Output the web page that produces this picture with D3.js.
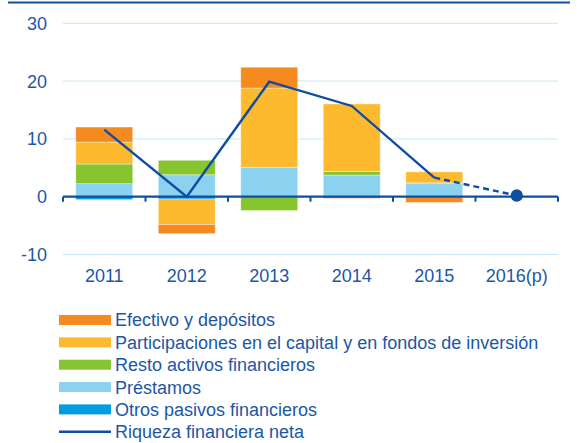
<!DOCTYPE html>
<html>
<head>
<meta charset="utf-8">
<script src="https://cdn.jsdelivr.net/npm/d3@7"></script>
<style>
  body { margin: 0; background: #fff; }
  svg { display: block; font-family: "Liberation Sans", Arial, sans-serif; }
</style>
</head>
<body>
<svg id="chart" width="577" height="443"></svg>
<script>
// Data
const years = ["2011", "2012", "2013", "2014", "2015", "2016(p)"];
const otrosPasivos = [-0.5, -0.4, 0, 0, 0, 0];
const prestamos = [2.25, 3.8, 5.1, 3.75, 2.25, 0];
const restoActivos = [3.4, 2.5, -2.4, 0.6, 0.15, 0];
const participaciones = [3.8, -4.4, 13.7, 11.7, 1.9, 0];
const efectivo = [2.6, -1.6, 3.6, -0.3, -1.0, 0];
const riqueza = [11.6, 0, 19.9, 15.7, 3.3, 0.2];
const yTicks = [-10, 0, 10, 20, 30];

const series = [
    { key: "efectivo", name: "Efectivo y depósitos", color: "#f58a1f", values: efectivo },
    { key: "participaciones", name: "Participaciones en el capital y en fondos de inversión", color: "#fdba2f", values: participaciones },
    { key: "resto", name: "Resto activos financieros", color: "#87c530", values: restoActivos },
    { key: "prestamos", name: "Préstamos", color: "#8bd2f1", values: prestamos },
    { key: "otros", name: "Otros pasivos financieros", color: "#009de0", values: otrosPasivos }
];

const textColor = "#1b57a7";
const lineColor = "#0d4ea2";

const svg = d3.select("#chart");
const plotLeft = 63, plotRight = 558, plotTop = 23.3, plotBottom = 254.5;

const x = d3.scaleBand().domain(years).range([plotLeft, plotRight]).paddingInner(0.31).paddingOuter(0.155);
const xc = d3.scaleBand().domain(years).range([plotLeft, plotRight]);
const y = d3.scaleLinear().domain([-10, 30]).range([plotBottom, plotTop]);

// top rule
svg.append("line")
    .attr("x1", 8).attr("x2", 570)
    .attr("y1", 2.5).attr("y2", 2.5)
    .attr("stroke", lineColor).attr("stroke-width", 2);

// gridlines
svg.selectAll(".grid")
    .data(yTicks.filter(d => d !== 0))
    .enter().append("line")
    .attr("x1", plotLeft).attr("x2", plotRight)
    .attr("y1", d => y(d)).attr("y2", d => y(d))
    .attr("stroke", "#c4e7f5").attr("stroke-width", 1);

// y labels
svg.selectAll(".ylab")
    .data(yTicks)
    .enter().append("text")
    .attr("x", 47)
    .attr("y", d => y(d))
    .attr("dy", "0.36em")
    .attr("text-anchor", "end")
    .attr("fill", textColor)
    .style("font-size", "18px")
    .text(d => d);

// stacked bars
const table = years.map((yr, i) => {
    const row = { year: yr };
    series.forEach(s => row[s.key] = s.values[i]);
    return row;
});
const stackOrder = ["otros", "prestamos", "resto", "participaciones", "efectivo"];
const stacked = d3.stack().keys(stackOrder).offset(d3.stackOffsetDiverging)(table);
const colorOf = Object.fromEntries(series.map(s => [s.key, s.color]));

stacked.forEach(layer => {
    svg.append("g")
        .selectAll("rect")
        .data(layer.filter(d => d[1] - d[0] !== 0))
        .enter().append("rect")
        .attr("x", d => x(d.data.year))
        .attr("width", x.bandwidth())
        .attr("y", d => y(Math.max(d[0], d[1])))
        .attr("height", d => Math.abs(y(d[0]) - y(d[1])))
        .attr("fill", colorOf[layer.key])
        .attr("stroke", "rgba(255,255,255,0.45)")
        .attr("stroke-width", 0.8);
});

// x axis line with ticks
const axisG = svg.append("g");
axisG.append("line")
    .attr("x1", plotLeft).attr("x2", plotRight)
    .attr("y1", y(0)).attr("y2", y(0))
    .attr("stroke", lineColor).attr("stroke-width", 2.2);
const boundaries = years.map(d => xc(d)).concat([plotRight]);
axisG.selectAll(".tick")
    .data(boundaries)
    .enter().append("line")
    .attr("x1", d => d).attr("x2", d => d)
    .attr("y1", y(0)).attr("y2", y(0) + 5)
    .attr("stroke", lineColor).attr("stroke-width", 2);

// x labels
svg.selectAll(".xlab")
    .data(years)
    .enter().append("text")
    .attr("x", d => xc(d) + xc.bandwidth() / 2)
    .attr("y", 276)
    .attr("dy", "0.36em")
    .attr("text-anchor", "middle")
    .attr("fill", textColor)
    .style("font-size", "18px")
    .text(d => d);

// net wealth line
const pts = years.map((yr, i) => ({ year: yr, value: riqueza[i] }));
const line = d3.line()
    .x(d => xc(d.year) + xc.bandwidth() / 2)
    .y(d => y(d.value));

svg.append("path")
    .datum(pts.slice(0, 5))
    .attr("d", line)
    .attr("fill", "none")
    .attr("stroke", lineColor)
    .attr("stroke-width", 2.4);

svg.append("path")
    .datum(pts.slice(4))
    .attr("d", line)
    .attr("fill", "none")
    .attr("stroke", lineColor)
    .attr("stroke-width", 2.4)
    .attr("stroke-dasharray", "6 4");

svg.append("circle")
    .attr("cx", xc(years[5]) + xc.bandwidth() / 2)
    .attr("cy", y(riqueza[5]))
    .attr("r", 6.2)
    .attr("fill", lineColor);

// legend
const legendItems = series.map(s => ({ name: s.name, color: s.color, type: "rect" }))
    .concat([{ name: "Riqueza financiera neta", color: lineColor, type: "line" }]);

const legend = svg.append("g")
    .selectAll("g")
    .data(legendItems)
    .enter().append("g")
    .attr("transform", (d, i) => `translate(59,${320 + i * 22.35})`);

legend.filter(d => d.type === "rect")
    .append("rect")
    .attr("x", 0).attr("y", -5)
    .attr("width", 52).attr("height", 10)
    .attr("fill", d => d.color);

legend.filter(d => d.type === "line")
    .append("line")
    .attr("x1", 0).attr("x2", 52)
    .attr("y1", 0).attr("y2", 0)
    .attr("stroke", d => d.color)
    .attr("stroke-width", 2.5);

legend.append("text")
    .attr("x", 56)
    .attr("y", 0)
    .attr("dy", "0.36em")
    .attr("fill", textColor)
    .style("font-size", "18px")
    .text(d => d.name);
</script>
</body>
</html>
